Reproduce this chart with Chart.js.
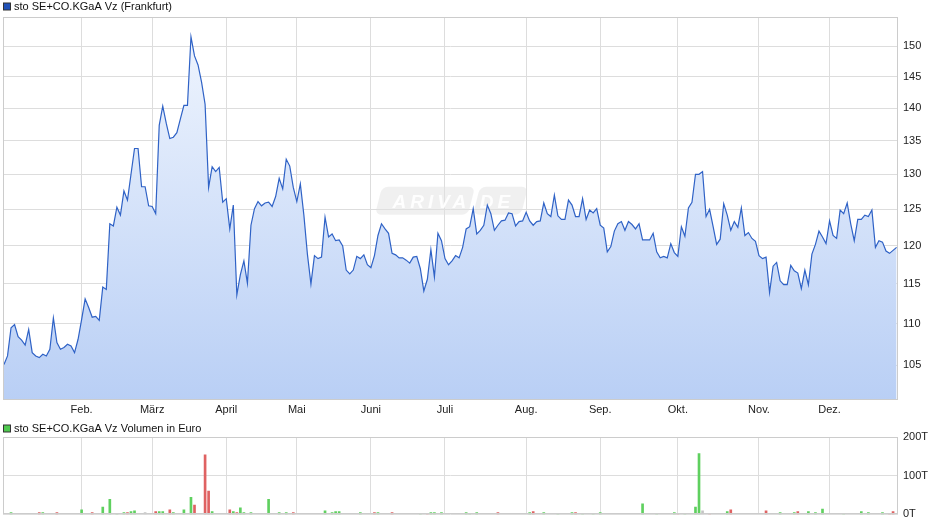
<!DOCTYPE html>
<html>
<head>
<meta charset="utf-8">
<script src="https://cdn.jsdelivr.net/npm/chart.js@4.4.1/dist/chart.umd.min.js"></script>
<style>
  html, body { margin: 0; padding: 0; background: #fff; }
  #wrap { position: relative; width: 940px; height: 526px; }
  canvas { position: absolute; left: 0; }
  #price-chart { top: 0; }
  #volume-chart { top: 420px; }
</style>
</head>
<body>
<div id="wrap">
  <canvas id="price-chart" width="940" height="420"></canvas>
  <canvas id="volume-chart" width="940" height="106"></canvas>
</div>
<script>
// daily closing prices (one value per trading day)
const prices = [
  105.1, 106.1, 109.5, 109.9, 108.4, 108.0, 107.4, 109.3, 106.5, 106.1,
  105.9, 106.3, 106.1, 106.9, 110.7, 107.7, 106.9, 107.1, 107.5, 107.3,
  106.5, 108.1, 110.5, 113.1, 112.0, 110.8, 110.9, 110.4, 114.6, 114.3,
  123.0, 122.7, 125.3, 124.2, 127.6, 126.3, 130.0, 133.8, 133.8, 128.2,
  128.2, 125.5, 125.4, 124.4, 137.3, 140.3, 137.6, 135.3, 135.5, 136.2,
  138.3, 140.4, 140.4, 151.6, 148.4, 146.9, 144.1, 140.6, 128.1, 131.1,
  130.4, 131.0, 126.0, 126.5, 122.3, 125.6, 113.6, 116.2, 118.0, 115.1,
  122.8, 125.1, 126.1, 125.5, 125.9, 126.0, 125.4, 126.8, 129.4, 127.9,
  132.2, 131.2, 128.1, 126.1, 128.6, 124.2, 118.9, 115.0, 118.7, 118.3,
  118.5, 123.9, 121.2, 121.6, 120.7, 120.8, 120.0, 116.8, 116.3, 116.8,
  118.6, 118.3, 118.8, 117.5, 117.1, 118.7, 121.4, 123.0, 122.3, 121.7,
  119.0, 118.8, 118.4, 118.4, 118.1, 117.7, 118.5, 118.6, 117.0, 114.1,
  115.6, 119.5, 115.9, 121.7, 120.7, 118.3, 117.5, 118.0, 118.7, 118.4,
  119.8, 122.3, 122.6, 125.1, 121.6, 122.1, 122.8, 125.6, 124.4, 122.1,
  122.8, 123.4, 123.5, 124.5, 124.4, 122.7, 123.3, 123.4, 124.6, 123.4,
  122.8, 123.3, 123.4, 125.9, 124.4, 124.0, 127.0, 124.1, 123.6, 123.6,
  126.3, 125.6, 124.0, 124.0, 126.5, 123.6, 124.9, 124.5, 125.1, 122.8,
  122.4, 119.2, 119.9, 122.0, 123.0, 123.3, 122.1, 123.3, 122.9, 122.3,
  123.0, 120.8, 120.8, 120.8, 121.7, 119.2, 118.4, 118.6, 118.4, 120.3,
  119.1, 118.6, 122.6, 121.3, 125.2, 126.0, 130.0, 130.0, 130.4, 124.0,
  125.0, 122.6, 120.2, 120.9, 125.8, 124.2, 122.1, 123.3, 122.5, 125.2,
  121.4, 121.8, 121.0, 120.6, 118.7, 118.3, 118.5, 113.9, 117.3, 117.8,
  115.4, 114.9, 114.9, 117.4, 116.7, 116.4, 114.4, 116.8, 114.9, 118.9,
  120.2, 122.0, 121.2, 120.3, 123.4, 121.4, 121.0, 124.9, 124.4, 125.9,
  123.0, 120.7, 123.6, 123.6, 124.2, 124.0, 124.9, 119.8, 120.7, 120.5,
  119.3, 119.0, 119.4, 119.8
];

// month starts (trading day index) and their labels
const monthIdx = [22, 42, 63, 83, 104, 125, 148, 169, 191, 214, 234];
const monthNames = ['Feb.', 'März', 'April', 'Mai', 'Juni', 'Juli', 'Aug.', 'Sep.', 'Okt.', 'Nov.', 'Dez.'];

const priceTicks = [105, 110, 115, 120, 125, 130, 135, 140, 145, 150];
const volumeTicks = [0, 100, 200];

// traded volume in thousand Euro, only days with visible bars
// trend: u = up day, d = down day, n = unchanged
const volDay = [
  2, 10, 11, 15, 22, 25, 28, 30, 32, 34,
  35, 36, 37, 40, 43, 44, 45, 47, 48, 51,
  53, 54, 57, 58, 59, 64, 65, 66, 67, 68,
  70, 75, 78, 80, 82, 91, 93, 94, 95, 101,
  105, 106, 110, 118, 120, 121, 122, 124, 131, 132,
  134, 140, 149, 150, 153, 157, 161, 162, 164, 167,
  169, 181, 185, 190, 191, 193, 196, 197, 198, 200,
  205, 206, 216, 220, 224, 225, 228, 230, 232, 238,
  243, 245, 249, 251, 252
];
const volAmount = [
  5, 5, 5, 5, 12, 5, 19, 39, 3, 5,
  5, 7, 9, 5, 7, 7, 7, 12, 5, 12,
  44, 24, 154, 60, 7, 12, 7, 5, 17, 5,
  5, 39, 5, 5, 5, 9, 5, 7, 7, 5,
  5, 5, 5, 3, 3, 5, 5, 5, 5, 3,
  5, 5, 5, 7, 5, 3, 5, 5, 3, 3,
  5, 27, 3, 5, 3, 3, 19, 157, 9, 3,
  7, 12, 9, 5, 5, 7, 7, 5, 14, 3,
  7, 5, 5, 3, 7
];
const volTrend = [
  'u', 'd', 'u', 'd', 'u', 'd', 'u', 'u', 'u', 'u',
  'd', 'u', 'u', 'n', 'd', 'u', 'u', 'd', 'u', 'u',
  'u', 'd', 'd', 'd', 'u', 'd', 'u', 'd', 'u', 'u',
  'u', 'u', 'u', 'u', 'd', 'u', 'u', 'u', 'u', 'u',
  'd', 'u', 'd', 'u', 'd', 'u', 'u', 'u', 'u', 'u',
  'u', 'd', 'u', 'd', 'u', 'u', 'u', 'd', 'u', 'u',
  'u', 'u', 'u', 'u', 'd', 'u', 'u', 'u', 'n', 'd',
  'u', 'd', 'd', 'u', 'u', 'd', 'u', 'u', 'u', 'u',
  'u', 'u', 'u', 'd', 'd'
];

const trendColors = { u: '#5fd05f', d: '#df6262', n: '#c4c4c4' };
const FONT = "'Liberation Sans', Arial, sans-serif";
const GRID = '#dddddd';

Chart.defaults.font.family = FONT;
Chart.defaults.font.size = 11;
Chart.defaults.color = '#222';

// frame around the plot, small legend on top and the ARIVA badge
const framePlugin = {
  id: 'frame',
  beforeDatasetsDraw(chart, args, opts) {
    if (!opts.watermark) return;
    const { ctx, chartArea: a } = chart;
    const cx = (a.left + a.right) / 2;
    const cy = a.top + (a.bottom - a.top) * 0.48;
    ctx.save();
    ctx.translate(cx, cy);
    ctx.transform(1, 0, -0.25, 1, 0, 0);
    ctx.fillStyle = 'rgba(226,226,226,0.5)';
    ctx.beginPath();
    ctx.roundRect(-72, -14, 93, 28, 6);
    ctx.roundRect(26, -14, 48, 28, 6);
    ctx.fill();
    ctx.restore();
    ctx.save();
    ctx.fillStyle = 'rgba(255,255,255,0.95)';
    ctx.font = 'italic bold 19px ' + FONT;
    ctx.letterSpacing = '4px';
    ctx.textBaseline = 'alphabetic';
    ctx.fillText('ARIVA', cx - 58, cy + 7);
    ctx.fillText('.DE', cx + 20, cy + 7);
    ctx.restore();
  },
  afterDraw(chart, args, opts) {
    const { ctx, chartArea: a } = chart;
    ctx.save();
    ctx.strokeStyle = '#cccccc';
    ctx.lineWidth = 1;
    ctx.strokeRect(Math.round(a.left) + 0.5, Math.round(a.top) + 0.5,
      Math.round(a.right - a.left) - 1, Math.round(a.bottom - a.top) - 1);
    // legend
    ctx.fillStyle = opts.legendColor;
    ctx.fillRect(3, opts.legendY - 3.5, 7, 7);
    ctx.strokeStyle = '#333';
    ctx.strokeRect(3.5, opts.legendY - 3.5, 7, 7);
    ctx.fillStyle = '#111';
    ctx.font = '11px ' + FONT;
    ctx.textBaseline = 'middle';
    ctx.fillText(opts.legendText, 14, opts.legendY);
    ctx.restore();
  }
};

const xMin = -0.28;
const xMax = 253.4;

function monthAxis(showLabels, height) {
  return {
    type: 'linear',
    min: xMin,
    max: xMax,
    offset: false,
    afterBuildTicks: (scale) => { scale.ticks = monthIdx.map(v => ({ value: v })); },
    afterFit: (scale) => { scale.height = height; },
    grid: { color: GRID, drawTicks: false, offset: false },
    border: { display: false },
    ticks: {
      display: showLabels,
      padding: 3,
      maxRotation: 0,
      autoSkip: false,
      callback: (value) => monthNames[monthIdx.indexOf(value)] || ''
    }
  };
}

// price chart
new Chart(document.getElementById('price-chart'), {
  type: 'line',
  data: {
    datasets: [{
      label: 'sto SE+CO.KGaA Vz (Frankfurt)',
      data: prices.map((p, i) => ({ x: i, y: p })),
      borderColor: '#2f62c6',
      borderWidth: 1.2,
      pointRadius: 0,
      tension: 0,
      fill: 'start',
      backgroundColor: (context) => {
        const { ctx, chartArea } = context.chart;
        if (!chartArea) return 'rgba(200,216,246,0.8)';
        const g = ctx.createLinearGradient(0, chartArea.top, 0, chartArea.bottom);
        g.addColorStop(0, '#f1f6fe');
        g.addColorStop(1, '#b9cff5');
        return g;
      }
    }]
  },
  options: {
    responsive: false,
    animation: false,
    devicePixelRatio: 1,
    layout: { padding: { top: 17, left: 3, right: 0, bottom: 0 } },
    plugins: {
      legend: { display: false },
      tooltip: { enabled: false },
      frame: { legendText: 'sto SE+CO.KGaA Vz (Frankfurt)', legendColor: '#2152b8', legendY: 6.5, watermark: true }
    },
    scales: {
      x: monthAxis(true, 20),
      y: {
        type: 'logarithmic',
        position: 'right',
        min: 101,
        max: 155,
        afterBuildTicks: (scale) => { scale.ticks = priceTicks.map(v => ({ value: v })); },
        afterFit: (scale) => { scale.width = 42; },
        grid: { color: GRID, drawTicks: false },
        border: { display: false },
        ticks: { padding: 5, callback: (value) => String(value) }
      }
    }
  },
  plugins: [framePlugin]
});

// volume chart
const volData = volDay.map((d, i) => ({ x: d, y: volAmount[i] }));
const volColors = volTrend.map(t => trendColors[t]);

new Chart(document.getElementById('volume-chart'), {
  type: 'bar',
  data: {
    datasets: [{
      label: 'sto SE+CO.KGaA Vz Volumen in Euro',
      data: volData,
      backgroundColor: volColors,
      barThickness: 2,
      borderWidth: 0
    }]
  },
  options: {
    responsive: false,
    animation: false,
    devicePixelRatio: 1,
    layout: { padding: { top: 17, left: 3, right: 0, bottom: 0 } },
    plugins: {
      legend: { display: false },
      tooltip: { enabled: false },
      frame: { legendText: 'sto SE+CO.KGaA Vz Volumen in Euro', legendColor: '#4fc94f', legendY: 8.5, watermark: false }
    },
    scales: {
      x: monthAxis(false, 10),
      y: {
        position: 'right',
        min: 0,
        max: 200,
        afterBuildTicks: (scale) => { scale.ticks = volumeTicks.map(v => ({ value: v })); },
        afterFit: (scale) => { scale.width = 42; },
        grid: { color: GRID, drawTicks: false },
        border: { display: false },
        ticks: { padding: 5, callback: (value) => value + 'T' }
      }
    }
  },
  plugins: [framePlugin]
});
</script>
</body>
</html>
